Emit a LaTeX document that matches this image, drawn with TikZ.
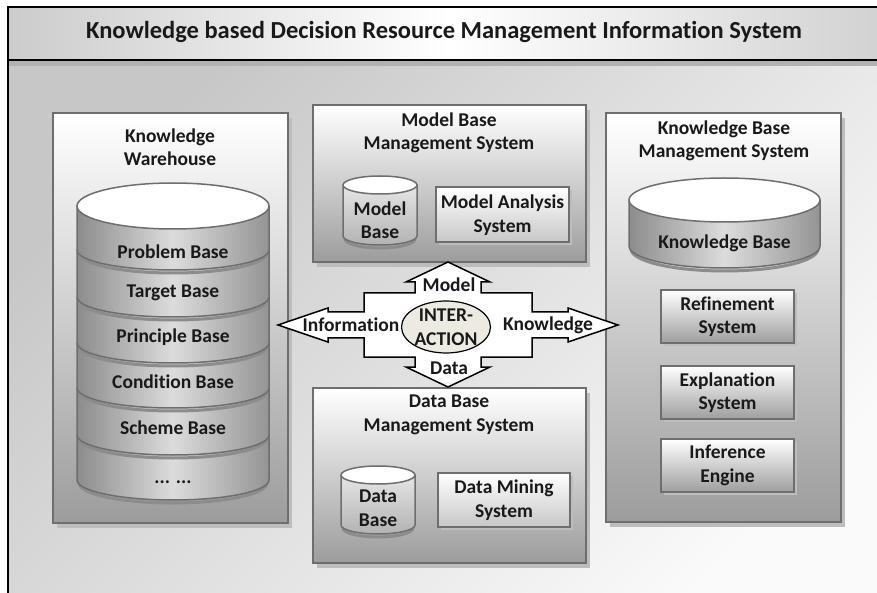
\documentclass[tikz,border=0pt]{standalone}
\usepackage{fontspec}
\setmainfont{Carlito}[Ligatures=NoCommon]
\usetikzlibrary{shapes.geometric}

\definecolor{frameedge}{HTML}{6E6E6E}
\definecolor{panelbot}{HTML}{9C9C9C}
\definecolor{shadowgray}{HTML}{BDBDBD}
\definecolor{hubfill}{HTML}{EDEBE1}
\definecolor{layeredge}{HTML}{8C8C8C}
\definecolor{layermid}{HTML}{DCDCDC}

\tikzset{
  panel/.style={draw=frameedge, line width=2pt, top color=white, bottom color=panelbot},
  mbox/.style={draw=frameedge, line width=2pt, top color=white, bottom color=black!22},
  kbox/.style={draw=frameedge, line width=2pt, top color=white, bottom color=black!38},
  lbl/.style={font=\bfseries\fontsize{19.5}{23.5}\selectfont, align=center, text=black!90, inner sep=0pt},
  layer/.style={draw=frameedge, line width=1.5pt, left color=layeredge, right color=black!42, middle color=layermid},
  rim/.style={black!45, line width=3pt},
}

\begin{document}
\begin{tikzpicture}[x=1pt,y=1pt]
    \useasboundingbox (0,0) rectangle (877,592);
    \clip (0,0) rectangle (877,592);

    % Background and title band
    \shade[top color=black!22, bottom color=black!2, shading angle=45] (8,-10) rectangle (890,532);
    \shade[left color=black!20, right color=black!18, middle color=white] (8,532) rectangle (890,585);
    \fill[black!30] (8,526) rectangle (890,532);
    \draw[line width=2.5pt] (8,532) -- (890,532);
    \draw[line width=2.5pt] (890,585) -- (8,585) -- (8,-10);
    \node[lbl, font=\bfseries\fontsize{24.5}{29}\selectfont] (title) at (444,560)
         {Knowledge based Decision Resource Management Information System};

    % Panels with shadows
    \foreach \xa/\ya/\xb/\yb in {53/69/288/479, 313/330/586/487, 313/29/586/204, 606/70/841/479} {
        \fill[shadowgray] (\xa+4,\ya-5) rectangle (\xb+4,\yb-5);
        \draw[panel] (\xa,\ya) rectangle (\xb,\yb);
    }

    % Panel titles
    \node[lbl] (kwtitle) at (170,445) {Knowledge\\Warehouse};
    \node[lbl] (mbtitle) at (449,459) {Model Base\\Management System};
    \node[lbl] (dbtitle) at (449,177) {Data Base\\Management System};
    \node[lbl] (kbtitle) at (724,451) {Knowledge Base\\Management System};

    % Knowledge warehouse: stacked cylinder (bottom layer first)
    \foreach \yb/\yt/\ty/\name/\txt in {112/157/110/dots/{... ...}, 157/204/164/scheme/Scheme Base,
            204/249/210/condition/Condition Base, 249/295/255/principle/Principle Base,
            295/342/299/target/Target Base, 342/386/340/problem/Problem Base} {
        \draw[rim] (79,\yb-3) arc[start angle=180, end angle=360, x radius=94, y radius=20];
        \draw[layer] (77,\yt) -- (77,\yb) arc[start angle=180, end angle=360, x radius=96, y radius=20] -- (269,\yt);
        \node[lbl] (\name) at (173,\ty) {\txt};
    }
    \draw[frameedge, line width=1.5pt, fill=white] (173,386) ellipse[x radius=96, y radius=23];

    % Model base management system
    \draw[rim] (345,353) arc[start angle=180, end angle=360, x radius=35, y radius=9];
    \draw[frameedge, line width=1.5pt, top color=black!10, bottom color=black!30]
         (343,407) -- (343,356) arc[start angle=180, end angle=360, x radius=37, y radius=9] -- (417,407);
    \draw[frameedge, line width=1.5pt, fill=white] (380,407) ellipse[x radius=37, y radius=9];
    \node[lbl] (modelbase) at (380,372) {Model\\Base};
    \fill[shadowgray] (439,347) rectangle (572,402);
    \draw[mbox] (436,350) rectangle (569,405);
    \node[lbl] (analysis) at (502.5,377) {Model Analysis\\System};

    % Data base management system
    \draw[rim] (343,64) arc[start angle=180, end angle=360, x radius=35, y radius=9];
    \draw[frameedge, line width=1.5pt, top color=black!10, bottom color=black!30]
         (341,117) -- (341,67) arc[start angle=180, end angle=360, x radius=37, y radius=9] -- (415,117);
    \draw[frameedge, line width=1.5pt, fill=white] (378,117) ellipse[x radius=37, y radius=9];
    \node[lbl] (database) at (378,84) {Data\\Base};
    \fill[shadowgray] (441,62) rectangle (573,116);
    \draw[mbox] (438,65) rectangle (570,119);
    \node[lbl] (mining) at (504,92) {Data Mining\\System};

    % Knowledge base management system
    \draw[rim] (631,343) arc[start angle=180, end angle=360, x radius=93.5, y radius=22];
    \draw[layer] (629,392) -- (629,346) arc[start angle=180, end angle=360, x radius=95.5, y radius=22] -- (820,392);
    \draw[frameedge, line width=1.5pt, fill=white] (724.5,392) ellipse[x radius=95.5, y radius=22];
    \node[lbl] (kbase) at (724.5,349) {Knowledge Base};
    \foreach \yb/\name/\txt in {249/refine/{Refinement\\System}, 173/explain/{Explanation\\System}, 100/infer/{Inference\\Engine}} {
        \fill[shadowgray] (664,\yb-3) rectangle (797,\yb+50);
        \draw[kbox] (661,\yb) rectangle (794,\yb+53);
        \node[lbl] (\name) at (727.5,\yb+26.5) {\txt};
    }

    % Interaction cross
    \draw[fill=white, line width=1.5pt]
         (278,267) -- (328,284) -- (328,280) -- (364,280) -- (364,299) -- (415,299) -- (415,310) -- (406,310)
         -- (448,330) -- (490,310) -- (481,310) -- (481,299) -- (532,299) -- (532,280) -- (568,280) -- (568,284)
         -- (618,267) -- (568,250) -- (568,254) -- (532,254) -- (532,235) -- (481,235) -- (481,225) -- (490,225)
         -- (448,205) -- (406,225) -- (415,225) -- (415,235) -- (364,235) -- (364,254) -- (328,254) -- (328,250) -- cycle;
    \node[lbl, ellipse, draw, line width=1.2pt, fill=hubfill, minimum width=78, minimum height=52] (hub) at (446,265) {INTER-\\ACTION};
    \node[lbl] (model) at (449,307) {Model};
    \node[lbl] (data) at (449,224) {Data};
    \node[lbl] (information) at (351,267) {Information};
    \node[lbl] (knowledge) at (548,267) {Knowledge};
\end{tikzpicture}
\end{document}
